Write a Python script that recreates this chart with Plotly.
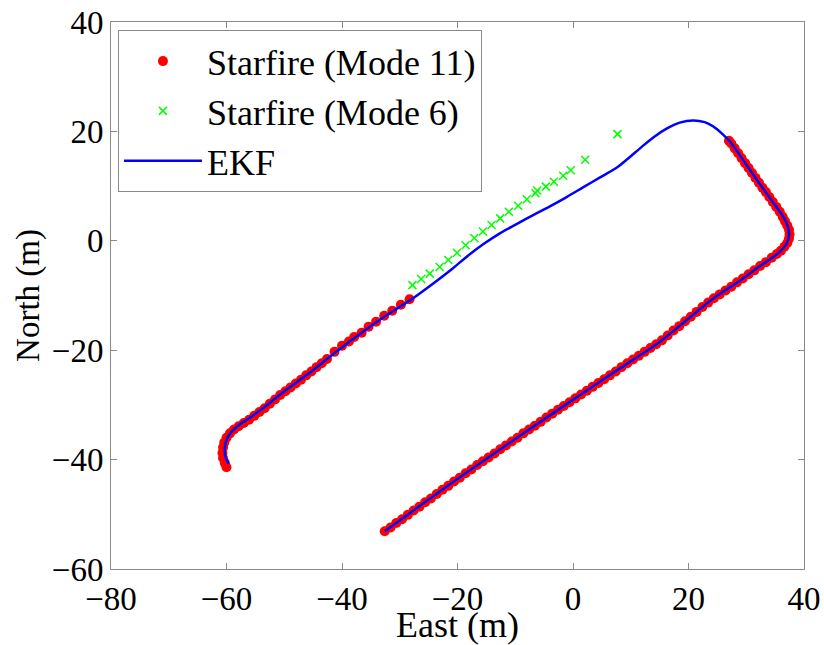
import plotly.graph_objects as go

# EKF trajectory (East, North) in metres
ekf_east = [-59.6, -60.2, -60.3, -60.0, -59.2, -58.0, -55.9, -53.3, -50.7, -47.8,
            -45.0, -42.1, -39.2, -36.3, -33.4, -30.5, -27.7, -24.2, -21.0, -18.4,
            -15.5, -12.6, -9.7, -6.9, -4.0, -1.1, 1.8, 4.7, 7.6, 9.6,
            11.6, 13.9, 16.2, 18.5, 20.8, 22.8, 24.3, 25.8, 27.2, 29.5,
            31.8, 34.1, 36.4, 37.2, 37.4, 37.0, 36.0, 34.7, 32.0, 29.0,
            26.0, 23.7, 20.0, 15.1, 7.0, -0.5, -9.0, -17.8, -25.0, -32.6]
ekf_north = [-40.8, -39.5, -38.0, -36.4, -35.0, -33.8, -32.3, -30.3, -28.1, -25.8,
             -23.6, -21.2, -18.8, -16.6, -14.4, -12.4, -10.5, -7.8, -5.2, -2.9,
             -0.6, 1.4, 3.1, 4.7, 6.3, 8.0, 9.8, 11.6, 13.4, 15.1,
             16.9, 18.9, 20.5, 21.6, 22.0, 21.7, 20.9, 19.6, 18.1, 14.7,
             11.2, 7.8, 4.4, 2.6, 1.0, -0.5, -1.8, -2.9, -4.9, -7.2,
             -9.3, -11.0, -14.2, -18.4, -24.1, -29.4, -35.5, -41.9, -47.3, -53.1]

# Starfire Mode 11 fixes
m11_east = [-60.0, -60.3, -60.6, -60.7, -60.6, -60.4, -60.0, -59.4, -58.7, -57.9,
            -57.0, -56.1, -55.2, -54.3, -53.4, -52.5, -51.6, -50.7, -49.8, -48.9,
            -48.0, -47.1, -46.2, -45.3, -44.4, -43.5, -42.6,
            -41.3, -40.0, -38.8, -37.9, -36.6, -35.4, -34.1, -32.7, -31.3, -29.8, -28.3,
            27.0, 27.4, 28.0, 28.6, 29.2, 29.8, 30.4, 31.0, 31.6, 32.2,
            32.8, 33.4, 34.0, 34.6, 35.2, 35.8, 36.3, 36.7, 37.1, 37.4,
            37.5, 37.4, 37.1, 36.6, 36.0, 35.3,
            34.4, 33.4, 32.4, 31.4, 30.4, 29.4, 28.4, 27.4, 26.4, 25.4,
            24.4, 23.4, 22.4, 21.4, 20.4, 19.4, 18.4, 17.4, 16.4, 15.4,
            14.4, 13.4, 12.4, 11.4, 10.4, 9.4, 8.4, 7.4, 6.4, 5.4,
            4.4, 3.4, 2.4, 1.4, 0.4, -0.6, -1.6, -2.6, -3.6, -4.6,
            -5.6, -6.6, -7.6, -8.6, -9.6, -10.6, -11.6, -12.6, -13.6, -14.6,
            -15.6, -16.6, -17.6, -18.6, -19.6, -20.6, -21.6, -22.6, -23.6, -24.6,
            -25.6, -26.6, -27.6, -28.6, -29.6, -30.6, -31.6, -32.6]
m11_north = [-41.4, -40.6, -39.7, -38.8, -37.8, -36.9, -36.0, -35.2, -34.5, -33.9,
             -33.3, -32.7, -32.0, -31.3, -30.6, -29.8, -29.0, -28.2, -27.5, -26.8,
             -26.1, -25.4, -24.6, -23.9, -23.1, -22.4, -21.6,
             -20.3, -19.2, -18.4, -17.6, -16.8, -15.7, -14.8, -13.7, -12.8, -11.7, -10.7,
             18.3, 17.8, 16.9, 16.0, 15.1, 14.2, 13.3, 12.4, 11.5, 10.6,
             9.7, 8.9, 8.0, 7.1, 6.2, 5.3, 4.4, 3.6, 2.8, 2.0,
             1.2, 0.4, -0.4, -1.1, -1.8, -2.4,
             -3.1, -3.9, -4.6, -5.4, -6.1, -6.9, -7.6, -8.4, -9.1, -9.8,
             -10.5, -11.3, -12.1, -13.0, -13.9, -14.7, -15.6, -16.4, -17.3, -18.2,
             -18.9, -19.6, -20.3, -21.0, -21.7, -22.4, -23.1, -23.9, -24.6, -25.3,
             -26.0, -26.7, -27.4, -28.1, -28.8, -29.5, -30.2, -30.9, -31.6, -32.3,
             -33.1, -33.8, -34.5, -35.2, -36.0, -36.7, -37.4, -38.1, -38.9, -39.6,
             -40.3, -41.0, -41.8, -42.5, -43.3, -44.0, -44.8, -45.5, -46.3, -47.1,
             -47.8, -48.6, -49.3, -50.1, -50.9, -51.6, -52.4, -53.1]

# Starfire Mode 6 fixes
m6_east = [-27.8, -26.3, -24.8, -23.1, -21.6, -20.1, -18.6, -17.1, -15.6, -14.1,
           -12.6, -11.1, -9.5, -8.0, -6.5, -6.2, -4.7, -3.3, -1.7, -0.4, 2.1, 7.7]
m6_north = [-8.1, -7.0, -6.0, -4.8, -3.5, -2.2, -0.8, 0.5, 1.7, 2.9,
            4.1, 5.3, 6.4, 7.6, 8.7, 9.2, 9.9, 10.8, 11.9, 12.9, 14.8, 19.5]

FONT = "Liberation Serif, Times New Roman, serif"

fig = go.Figure()
fig.add_trace(go.Scatter(x=m11_east, y=m11_north, mode="markers",
                         name="Starfire (Mode 11)", legendgroup="a",
                         marker=dict(color="#ff0000", size=10, line=dict(width=0))))
fig.add_trace(go.Scatter(x=m6_east, y=m6_north, mode="markers",
                         name="Starfire (Mode 6)", legendgroup="b",
                         marker=dict(symbol="x-thin", color="#00ff00", size=8,
                                     line=dict(color="#00ff00", width=1.5))))
fig.add_trace(go.Scatter(x=ekf_east, y=ekf_north, mode="lines",
                         name="EKF", legendgroup="c",
                         line=dict(color="#0000ff", width=2.5, shape="spline")))

axis_common = dict(showgrid=False, zeroline=False, showline=True, mirror="ticks",
                   linecolor="#8a8a8a", linewidth=1, ticks="inside", ticklen=6,
                   tickcolor="#8a8a8a", dtick=20,
                   tickfont=dict(family=FONT, size=33, color="black"))

fig.update_layout(
    width=824, height=645,
    margin=dict(l=111, r=20, t=22, b=76, autoexpand=False),
    paper_bgcolor="white", plot_bgcolor="white",
    font=dict(family=FONT, color="black"),
    xaxis=dict(range=[-80, 40], tick0=-80,
               title=dict(text="East (m)", font=dict(family=FONT, size=36), standoff=2),
               automargin=False, **axis_common),
    yaxis=dict(range=[-60, 40], tick0=-60,
               title=dict(text="North (m)", font=dict(family=FONT, size=33), standoff=2),
               automargin=False, **axis_common),
    legend=dict(x=0.01, y=0.985, xanchor="left", yanchor="top",
                bgcolor="white", bordercolor="#8a8a8a", borderwidth=1,
                font=dict(family=FONT, size=36, color="black"),
                tracegroupgap=0, itemwidth=78),
    showlegend=True,
)

fig.write_html("out.html")
